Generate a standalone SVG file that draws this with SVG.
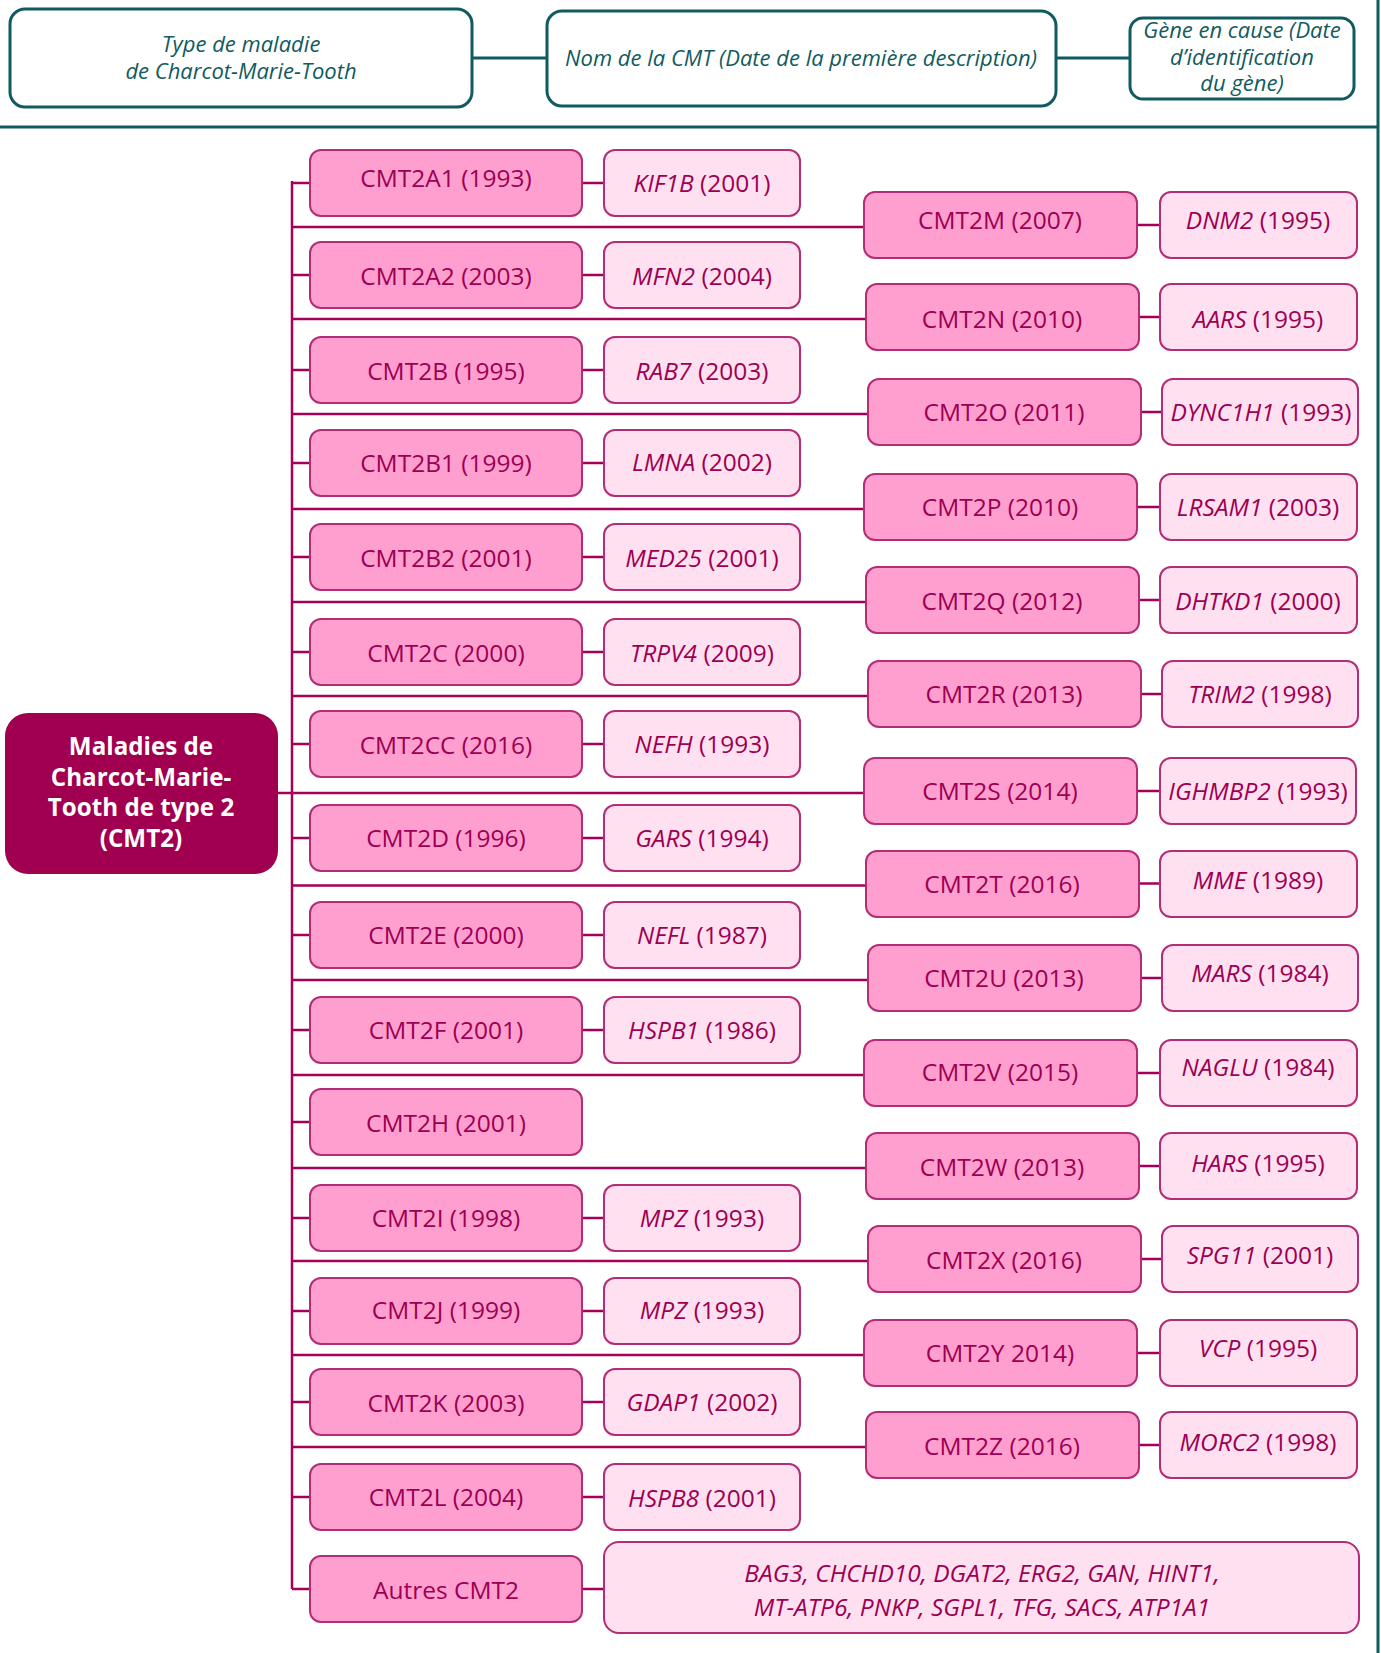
<svg xmlns="http://www.w3.org/2000/svg" width="1381" height="1653" viewBox="0 0 1381 1653">
<style>
.hb{fill:#fff;stroke:#115b60;stroke-width:3}
.hl{stroke:#115b60;stroke-width:3;fill:none}
.ht{font-family:"Open Sans","Noto Sans",sans-serif;font-size:22px;font-style:italic;fill:#115b60;text-anchor:middle}
.main{fill:#a0004f}
.mt{font-family:"Open Sans","Noto Sans",sans-serif;font-size:24.2px;font-weight:bold;fill:#fff;text-anchor:middle}
.cmt{fill:#ff9fd0;stroke:#b32d74;stroke-width:2}
.gene{fill:#ffe0f0;stroke:#b32d74;stroke-width:2}
.t{font-family:"Open Sans","Noto Sans",sans-serif;font-size:24.5px;fill:#9c0052;text-anchor:middle}
.i{font-style:italic}
.ln{stroke:#a4005a;stroke-width:2.5;fill:none}
</style>
<rect width="1381" height="1653" fill="#fff"/>
<g id="legend">
<g id="legend-type"><rect class="hb" x="10" y="9" width="462" height="98" rx="15"/><text class="ht" x="241" y="52">Type de maladie</text><text class="ht" x="241" y="79">de Charcot-Marie-Tooth</text></g>
<g id="legend-nom"><rect class="hb" x="547" y="11" width="509" height="95" rx="15"/><text class="ht" x="801" y="66">Nom de la CMT (Date de la première description)</text></g>
<g id="legend-gene"><rect class="hb" x="1130" y="18" width="224" height="81" rx="13"/><text class="ht" x="1242" y="38">Gène en cause (Date</text><text class="ht" x="1242" y="65">d’identification</text><text class="ht" x="1242" y="91">du gène)</text></g>
<g id="legend-lines"><path class="hl" d="M472 58H547M1056 58H1130M0 127H1378M1378 0V1653"/></g>
</g>
<g id="connectors">
<path class="ln" d="M292 181V1589M278 793H292"/>
<path class="ln" d="M292 183H310M292 275H310M292 370H310M292 463H310M292 557H310M292 652H310M292 744H310M292 838H310M292 935H310M292 1030H310M292 1122H310M292 1218H310M292 1311H310M292 1402H310M292 1497H310M292 1589H310"/>
<path class="ln" d="M582 183H604M582 275H604M582 370H604M582 463H604M582 557H604M582 652H604M582 744H604M582 838H604M582 935H604M582 1030H604M582 1218H604M582 1311H604M582 1402H604M582 1497H604M582 1589H604"/>
<path class="ln" d="M292 227H864M292 319H866M292 414H868M292 509H864M292 602H866M292 696H868M292 793H864M292 885.5H866M292 980H868M292 1075H864M292 1168H866M292 1261H868M292 1355H864M292 1447H866"/>
<path class="ln" d="M1137 225H1160M1139 317H1160M1141 412H1162M1137 507H1160M1139 600H1160M1141 694H1162M1137 791H1160M1139 883.5H1160M1141 978H1162M1137 1073H1160M1139 1166H1160M1141 1259H1162M1137 1353H1160M1139 1445H1160"/>
</g>
<g id="main"><rect class="main" x="5" y="713" width="273" height="161" rx="23"/><text class="mt" x="141" y="755">Maladies de</text><text class="mt" x="141" y="786">Charcot-Marie-</text><text class="mt" x="141" y="816">Tooth de type 2</text><text class="mt" x="141" y="847">(CMT2)</text></g>
<g id="CMT2A1"><rect class="cmt" x="310" y="150" width="272" height="66" rx="11"/><text class="t" x="446" y="187">CMT2A1 (1993)</text></g>
<g id="KIF1B"><rect class="gene" x="604" y="150" width="196" height="66" rx="11"/><text class="t" x="702" y="192"><tspan class="i">KIF1B</tspan> (2001)</text></g>
<g id="CMT2A2"><rect class="cmt" x="310" y="242" width="272" height="66" rx="11"/><text class="t" x="446" y="285">CMT2A2 (2003)</text></g>
<g id="MFN2"><rect class="gene" x="604" y="242" width="196" height="66" rx="11"/><text class="t" x="702" y="285"><tspan class="i">MFN2</tspan> (2004)</text></g>
<g id="CMT2B"><rect class="cmt" x="310" y="337" width="272" height="66" rx="11"/><text class="t" x="446" y="380">CMT2B (1995)</text></g>
<g id="RAB7"><rect class="gene" x="604" y="337" width="196" height="66" rx="11"/><text class="t" x="702" y="380"><tspan class="i">RAB7</tspan> (2003)</text></g>
<g id="CMT2B1"><rect class="cmt" x="310" y="430" width="272" height="66" rx="11"/><text class="t" x="446" y="472">CMT2B1 (1999)</text></g>
<g id="LMNA"><rect class="gene" x="604" y="430" width="196" height="66" rx="11"/><text class="t" x="702" y="471"><tspan class="i">LMNA</tspan> (2002)</text></g>
<g id="CMT2B2"><rect class="cmt" x="310" y="524" width="272" height="66" rx="11"/><text class="t" x="446" y="567">CMT2B2 (2001)</text></g>
<g id="MED25"><rect class="gene" x="604" y="524" width="196" height="66" rx="11"/><text class="t" x="702" y="567"><tspan class="i">MED25</tspan> (2001)</text></g>
<g id="CMT2C"><rect class="cmt" x="310" y="619" width="272" height="66" rx="11"/><text class="t" x="446" y="662">CMT2C (2000)</text></g>
<g id="TRPV4"><rect class="gene" x="604" y="619" width="196" height="66" rx="11"/><text class="t" x="702" y="662"><tspan class="i">TRPV4</tspan> (2009)</text></g>
<g id="CMT2CC"><rect class="cmt" x="310" y="711" width="272" height="66" rx="11"/><text class="t" x="446" y="754">CMT2CC (2016)</text></g>
<g id="NEFH"><rect class="gene" x="604" y="711" width="196" height="66" rx="11"/><text class="t" x="702" y="753"><tspan class="i">NEFH</tspan> (1993)</text></g>
<g id="CMT2D"><rect class="cmt" x="310" y="805" width="272" height="66" rx="11"/><text class="t" x="446" y="847">CMT2D (1996)</text></g>
<g id="GARS"><rect class="gene" x="604" y="805" width="196" height="66" rx="11"/><text class="t" x="702" y="847"><tspan class="i">GARS</tspan> (1994)</text></g>
<g id="CMT2E"><rect class="cmt" x="310" y="902" width="272" height="66" rx="11"/><text class="t" x="446" y="944">CMT2E (2000)</text></g>
<g id="NEFL"><rect class="gene" x="604" y="902" width="196" height="66" rx="11"/><text class="t" x="702" y="944"><tspan class="i">NEFL</tspan> (1987)</text></g>
<g id="CMT2F"><rect class="cmt" x="310" y="997" width="272" height="66" rx="11"/><text class="t" x="446" y="1039">CMT2F (2001)</text></g>
<g id="HSPB1"><rect class="gene" x="604" y="997" width="196" height="66" rx="11"/><text class="t" x="702" y="1039"><tspan class="i">HSPB1</tspan> (1986)</text></g>
<g id="CMT2H"><rect class="cmt" x="310" y="1089" width="272" height="66" rx="11"/><text class="t" x="446" y="1132">CMT2H (2001)</text></g>
<g id="CMT2I"><rect class="cmt" x="310" y="1185" width="272" height="66" rx="11"/><text class="t" x="446" y="1227">CMT2I (1998)</text></g>
<g id="MPZ-I"><rect class="gene" x="604" y="1185" width="196" height="66" rx="11"/><text class="t" x="702" y="1227"><tspan class="i">MPZ</tspan> (1993)</text></g>
<g id="CMT2J"><rect class="cmt" x="310" y="1278" width="272" height="66" rx="11"/><text class="t" x="446" y="1319">CMT2J (1999)</text></g>
<g id="MPZ-J"><rect class="gene" x="604" y="1278" width="196" height="66" rx="11"/><text class="t" x="702" y="1319"><tspan class="i">MPZ</tspan> (1993)</text></g>
<g id="CMT2K"><rect class="cmt" x="310" y="1369" width="272" height="66" rx="11"/><text class="t" x="446" y="1412">CMT2K (2003)</text></g>
<g id="GDAP1"><rect class="gene" x="604" y="1369" width="196" height="66" rx="11"/><text class="t" x="702" y="1411"><tspan class="i">GDAP1</tspan> (2002)</text></g>
<g id="CMT2L"><rect class="cmt" x="310" y="1464" width="272" height="66" rx="11"/><text class="t" x="446" y="1506">CMT2L (2004)</text></g>
<g id="HSPB8"><rect class="gene" x="604" y="1464" width="196" height="66" rx="11"/><text class="t" x="702" y="1507"><tspan class="i">HSPB8</tspan> (2001)</text></g>
<g id="Autres"><rect class="cmt" x="310" y="1556" width="272" height="66" rx="11"/><text class="t" x="446" y="1599">Autres CMT2</text></g>
<g id="Autres-genes"><rect class="gene" x="604" y="1542" width="755" height="91" rx="15"/><text class="t i" x="982" y="1582">BAG3, CHCHD10, DGAT2, ERG2, GAN, HINT1,</text><text class="t i" x="982" y="1616">MT-ATP6, PNKP, SGPL1, TFG, SACS, ATP1A1</text></g>
<g id="CMT2M"><rect class="cmt" x="864" y="192" width="273" height="66" rx="11"/><text class="t" x="1000" y="229">CMT2M (2007)</text></g>
<g id="DNM2"><rect class="gene" x="1160" y="192" width="197" height="66" rx="11"/><text class="t" x="1258" y="229"><tspan class="i">DNM2</tspan> (1995)</text></g>
<g id="CMT2N"><rect class="cmt" x="866" y="284" width="273" height="66" rx="11"/><text class="t" x="1002" y="328">CMT2N (2010)</text></g>
<g id="AARS"><rect class="gene" x="1160" y="284" width="197" height="66" rx="11"/><text class="t" x="1258" y="328"><tspan class="i">AARS</tspan> (1995)</text></g>
<g id="CMT2O"><rect class="cmt" x="868" y="379" width="273" height="66" rx="11"/><text class="t" x="1004" y="421">CMT2O (2011)</text></g>
<g id="DYNC1H1"><rect class="gene" x="1162" y="379" width="196" height="66" rx="11"/><text class="t" x="1261" y="421"><tspan class="i">DYNC1H1</tspan> (1993)</text></g>
<g id="CMT2P"><rect class="cmt" x="864" y="474" width="273" height="66" rx="11"/><text class="t" x="1000" y="516">CMT2P (2010)</text></g>
<g id="LRSAM1"><rect class="gene" x="1160" y="474" width="197" height="66" rx="11"/><text class="t" x="1258" y="516"><tspan class="i">LRSAM1</tspan> (2003)</text></g>
<g id="CMT2Q"><rect class="cmt" x="866" y="567" width="273" height="66" rx="11"/><text class="t" x="1002" y="610">CMT2Q (2012)</text></g>
<g id="DHTKD1"><rect class="gene" x="1160" y="567" width="197" height="66" rx="11"/><text class="t" x="1258" y="610"><tspan class="i">DHTKD1</tspan> (2000)</text></g>
<g id="CMT2R"><rect class="cmt" x="868" y="661" width="273" height="66" rx="11"/><text class="t" x="1004" y="703">CMT2R (2013)</text></g>
<g id="TRIM2"><rect class="gene" x="1162" y="661" width="196" height="66" rx="11"/><text class="t" x="1260" y="703"><tspan class="i">TRIM2</tspan> (1998)</text></g>
<g id="CMT2S"><rect class="cmt" x="864" y="758" width="273" height="66" rx="11"/><text class="t" x="1000" y="800">CMT2S (2014)</text></g>
<g id="IGHMBP2"><rect class="gene" x="1160" y="758" width="196" height="66" rx="11"/><text class="t" x="1258" y="800"><tspan class="i">IGHMBP2</tspan> (1993)</text></g>
<g id="CMT2T"><rect class="cmt" x="866" y="851" width="273" height="66" rx="11"/><text class="t" x="1002" y="893">CMT2T (2016)</text></g>
<g id="MME"><rect class="gene" x="1160" y="851" width="197" height="66" rx="11"/><text class="t" x="1258" y="889"><tspan class="i">MME</tspan> (1989)</text></g>
<g id="CMT2U"><rect class="cmt" x="868" y="945" width="273" height="66" rx="11"/><text class="t" x="1004" y="987">CMT2U (2013)</text></g>
<g id="MARS"><rect class="gene" x="1162" y="945" width="196" height="66" rx="11"/><text class="t" x="1260" y="982"><tspan class="i">MARS</tspan> (1984)</text></g>
<g id="CMT2V"><rect class="cmt" x="864" y="1040" width="273" height="66" rx="11"/><text class="t" x="1000" y="1081">CMT2V (2015)</text></g>
<g id="NAGLU"><rect class="gene" x="1160" y="1040" width="197" height="66" rx="11"/><text class="t" x="1258" y="1076"><tspan class="i">NAGLU</tspan> (1984)</text></g>
<g id="CMT2W"><rect class="cmt" x="866" y="1133" width="273" height="66" rx="11"/><text class="t" x="1002" y="1176">CMT2W (2013)</text></g>
<g id="HARS"><rect class="gene" x="1160" y="1133" width="197" height="66" rx="11"/><text class="t" x="1258" y="1172"><tspan class="i">HARS</tspan> (1995)</text></g>
<g id="CMT2X"><rect class="cmt" x="868" y="1226" width="273" height="66" rx="11"/><text class="t" x="1004" y="1269">CMT2X (2016)</text></g>
<g id="SPG11"><rect class="gene" x="1162" y="1226" width="196" height="66" rx="11"/><text class="t" x="1260" y="1264"><tspan class="i">SPG11</tspan> (2001)</text></g>
<g id="CMT2Y"><rect class="cmt" x="864" y="1320" width="273" height="66" rx="11"/><text class="t" x="1000" y="1362">CMT2Y 2014)</text></g>
<g id="VCP"><rect class="gene" x="1160" y="1320" width="197" height="66" rx="11"/><text class="t" x="1258" y="1357"><tspan class="i">VCP</tspan> (1995)</text></g>
<g id="CMT2Z"><rect class="cmt" x="866" y="1412" width="273" height="66" rx="11"/><text class="t" x="1002" y="1455">CMT2Z (2016)</text></g>
<g id="MORC2"><rect class="gene" x="1160" y="1412" width="197" height="66" rx="11"/><text class="t" x="1258" y="1451"><tspan class="i">MORC2</tspan> (1998)</text></g>
</svg>
